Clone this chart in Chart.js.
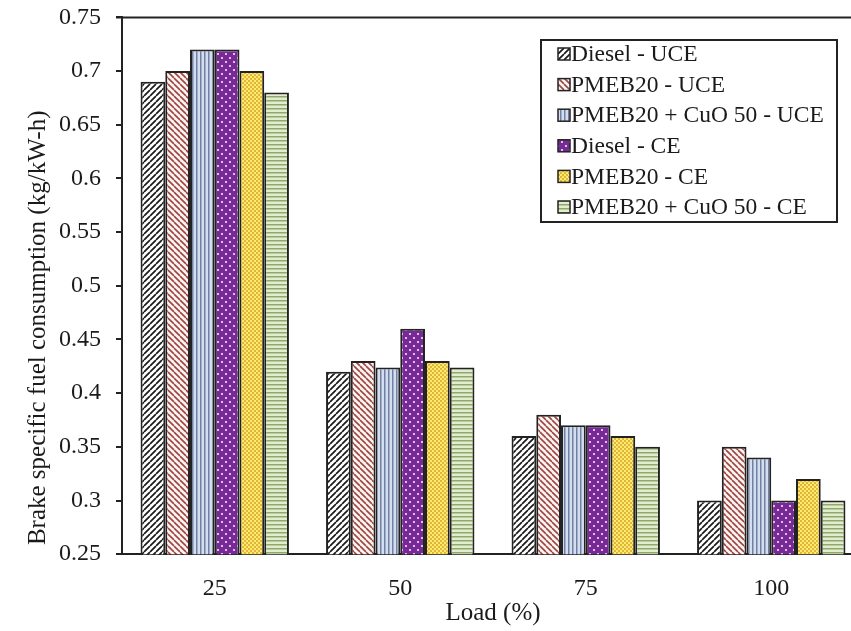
<!DOCTYPE html>
<html>
<head>
<meta charset="utf-8">
<script src="https://cdn.jsdelivr.net/npm/chart.js@4.4.1/dist/chart.umd.min.js"></script>
<style>
  html, body { margin: 0; padding: 0; background: #fff; overflow: hidden; }
  #contenedor { width: 864px; height: 640px; margin-top: -12px; }
</style>
</head>
<body>
<div id="contenedor"><canvas id="diagramaBSFC"></canvas></div>
<script>
// datos
const cargas = ['25', '50', '75', '100'];
const nombresSeries = ['Diesel - UCE', 'PMEB20 - UCE', 'PMEB20 + CuO 50 - UCE',
                       'Diesel - CE', 'PMEB20 - CE', 'PMEB20 + CuO 50 - CE'];
const dieselUCE = [0.69, 0.42, 0.36, 0.30];
const pmebUCE = [0.70, 0.43, 0.38, 0.35];
const cuoUCE = [0.72, 0.424, 0.37, 0.34];
const dieselCE = [0.72, 0.46, 0.37, 0.30];
const pmebCE = [0.70, 0.43, 0.36, 0.32];
const cuoCE = [0.68, 0.424, 0.35, 0.30];
const ejeYMin = 0.25;
const ejeYMax = 0.75;
const ejeYPaso = 0.05;
const tituloY = 'Brake specific fuel consumption (kg/kW-h)';

const fuente = '"Liberation Serif", "Times New Roman", serif';

// patrones de relleno parecidos a los de Excel
function crearPatron(tam, dibujar) {
    let c = document.createElement('canvas');
    c.width = tam;
    c.height = tam;
    let ctx = c.getContext('2d');
    dibujar(ctx, tam);
    return ctx.createPattern(c, 'repeat');
}

function rayas(fondo, color, ancho, dir) {
    return crearPatron(6, function (ctx, t) {
        ctx.fillStyle = fondo;
        ctx.fillRect(0, 0, t, t);
        ctx.strokeStyle = color;
        ctx.lineWidth = ancho;
        ctx.beginPath();
        for (let k = -1; k <= 1; k++) {
            if (dir > 0) {
                ctx.moveTo(k * t, t);
                ctx.lineTo(k * t + t, 0);
            } else {
                ctx.moveTo(k * t, 0);
                ctx.lineTo(k * t + t, t);
            }
        }
        ctx.stroke();
    });
}

const patrones = [
    rayas('#ffffff', '#1a1a1a', 1.7, 1),
    rayas('#fdf3f1', '#9c4640', 1.6, -1),
    crearPatron(4, function (ctx, t) {
        ctx.fillStyle = '#d4def0';
        ctx.fillRect(0, 0, t, t);
        ctx.fillStyle = '#7080a0';
        ctx.fillRect(0, 0, 1.5, t);
    }),
    crearPatron(8, function (ctx, t) {
        ctx.fillStyle = '#762a95';
        ctx.fillRect(0, 0, t, t);
        ctx.fillStyle = '#e9b9ea';
        ctx.fillRect(1, 1, 2, 2);
        ctx.fillRect(5, 5, 2, 2);
    }),
    crearPatron(4, function (ctx, t) {
        ctx.fillStyle = '#fbec6a';
        ctx.fillRect(0, 0, t, t);
        ctx.fillStyle = '#e2b43e';
        ctx.fillRect(0, 0, 2, 2);
        ctx.fillRect(2, 2, 2, 2);
    }),
    crearPatron(4, function (ctx, t) {
        ctx.fillStyle = '#e2edcf';
        ctx.fillRect(0, 0, t, t);
        ctx.fillStyle = '#90a86c';
        ctx.fillRect(0, 0, t, 1.5);
    })
];

const valores = [dieselUCE, pmebUCE, cuoUCE, dieselCE, pmebCE, cuoCE];

const conjuntos = [];
for (let i = 0; i < nombresSeries.length; i++) {
    conjuntos.push({
        label: nombresSeries[i],
        data: valores[i],
        backgroundColor: patrones[i],
        borderColor: '#222222',
        borderWidth: 2,
        borderSkipped: false,
        categoryPercentage: 0.8,
        barPercentage: 1.0
    });
}

// marco del area del grafico (arriba y derecha)
const marco = {
    id: 'marco',
    afterDraw(chart) {
        let a = chart.chartArea;
        let ctx = chart.ctx;
        ctx.save();
        ctx.strokeStyle = '#222';
        ctx.lineWidth = 2;
        ctx.beginPath();
        ctx.moveTo(a.left - 6, a.top);
        ctx.lineTo(a.right, a.top);
        ctx.lineTo(a.right, a.bottom);
        ctx.stroke();
        ctx.restore();
    }
};

// titulo del eje y, algo por debajo del centro como en la figura
const tituloEjeY = {
    id: 'tituloEjeY',
    afterDraw(chart) {
        let ctx = chart.ctx;
        let a = chart.chartArea;
        ctx.save();
        ctx.translate(38, (a.top + a.bottom) / 2 + 42);
        ctx.rotate(-Math.PI / 2);
        ctx.font = '25px ' + fuente;
        ctx.fillStyle = '#1a1a1a';
        ctx.textAlign = 'center';
        ctx.textBaseline = 'middle';
        ctx.fillText(tituloY, 0, 0);
        ctx.restore();
    }
};

// leyenda dentro del area, arriba a la derecha
const leyenda = {
    id: 'leyendaDentro',
    afterDraw(chart) {
        let ctx = chart.ctx;
        let x0 = 541, y0 = 52, w = 296, h = 182;
        ctx.save();
        ctx.fillStyle = '#fff';
        ctx.fillRect(x0, y0, w, h);
        ctx.strokeStyle = '#222';
        ctx.lineWidth = 2;
        ctx.strokeRect(x0, y0, w, h);
        ctx.font = '23.5px ' + fuente;
        ctx.textBaseline = 'middle';
        chart.data.datasets.forEach(function (ds, i) {
            let y = y0 + 14 + i * 30.6;
            ctx.fillStyle = ds.backgroundColor;
            ctx.fillRect(558, y - 6, 12, 12);
            ctx.lineWidth = 1.5;
            ctx.strokeRect(558, y - 6, 12, 12);
            ctx.fillStyle = '#1a1a1a';
            ctx.fillText(ds.label, 571, y + 1);
        });
        ctx.restore();
    }
};

const lienzo = document.getElementById('diagramaBSFC');
const diagrama = new Chart(lienzo, {
    type: 'bar',
    data: {
        labels: cargas,
        datasets: conjuntos
    },
    options: {
        responsive: true,
        maintainAspectRatio: false,
        animation: false,
        layout: { padding: { top: 0, right: 0, left: 44, bottom: 0 } },
        plugins: {
            legend: { display: false },
            tooltip: { enabled: false }
        },
        scales: {
            x: {
                grid: { display: false, drawTicks: false },
                border: { color: '#222', width: 2 },
                ticks: {
                    color: '#1a1a1a',
                    font: { family: fuente, size: 24 },
                    padding: 20
                },
                title: {
                    display: true,
                    text: 'Load (%)',
                    color: '#1a1a1a',
                    font: { family: fuente, size: 25 },
                    padding: { top: -25, bottom: 0 }
                }
            },
            y: {
                min: ejeYMin,
                max: ejeYMax,
                grid: { display: true, drawOnChartArea: false, drawTicks: true, tickLength: 6, color: '#222', lineWidth: 2 },
                border: { color: '#222', width: 2 },
                ticks: {
                    stepSize: ejeYPaso,
                    color: '#1a1a1a',
                    font: { family: fuente, size: 24 },
                    padding: 15,
                    callback: function (v) { return String(Number(v.toFixed(2))); }
                }
            }
        }
    },
    plugins: [marco, tituloEjeY, leyenda]
});
</script>
</body>
</html>
